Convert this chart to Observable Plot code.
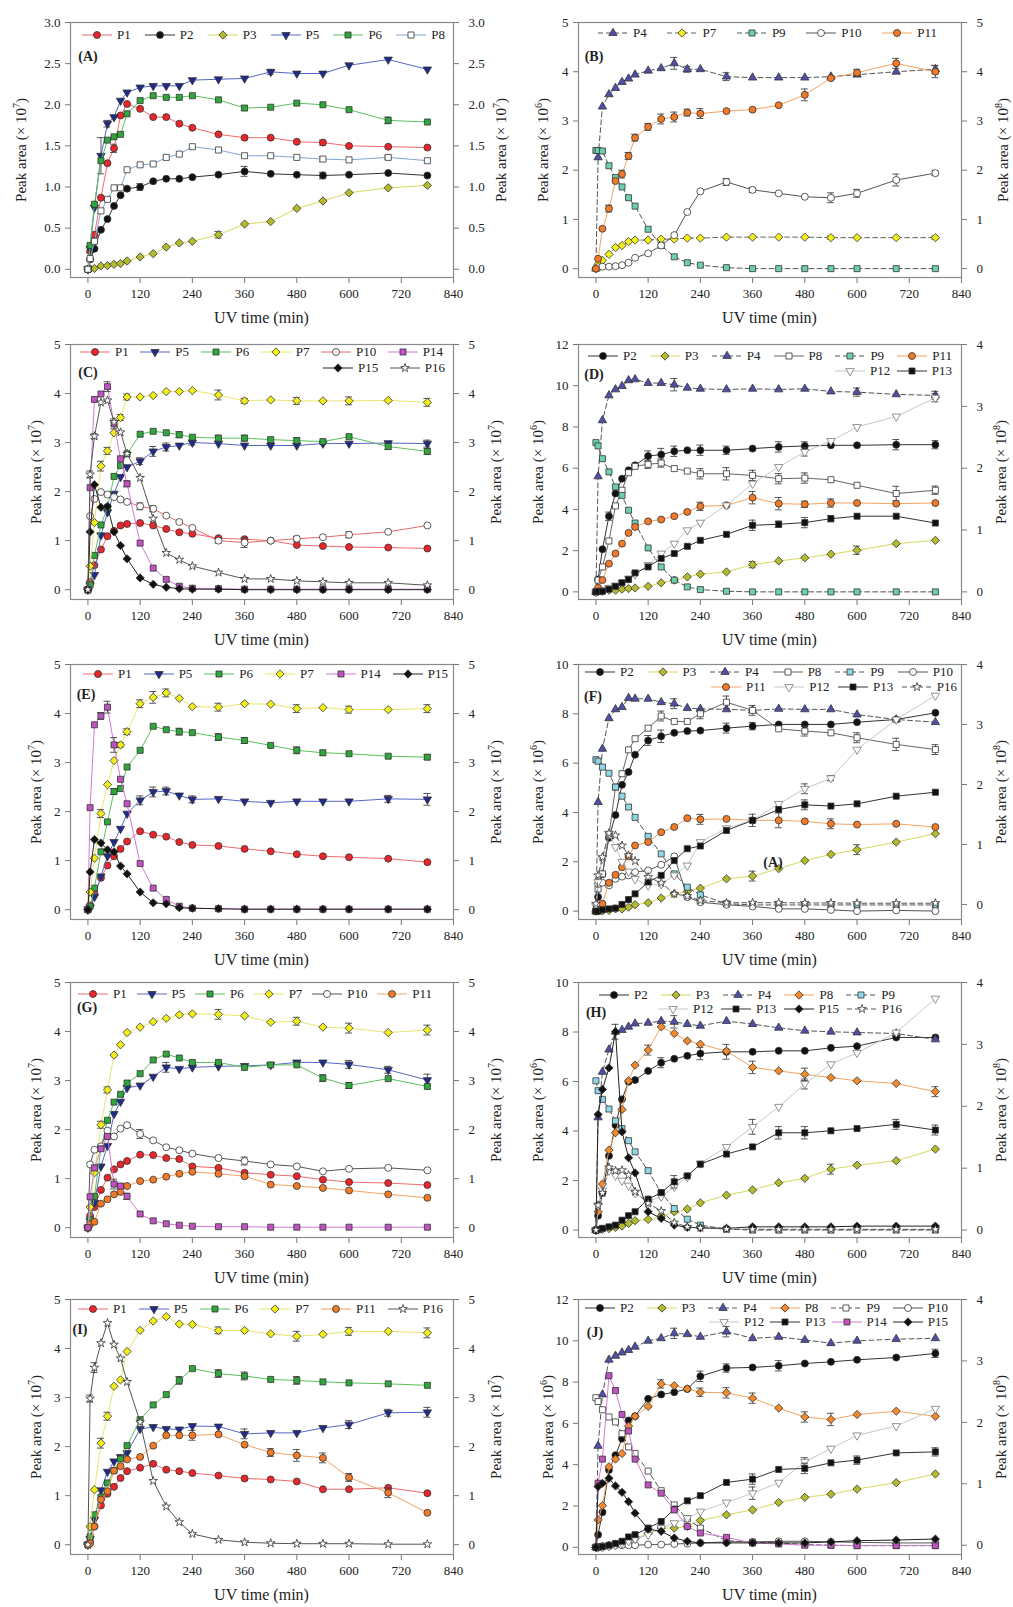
<!DOCTYPE html>
<html><head><meta charset="utf-8">
<script src="https://cdn.jsdelivr.net/npm/d3@7"></script>
<script src="https://cdn.jsdelivr.net/npm/@observablehq/plot@0.6"></script>
<style>
body{margin:0;background:#fff;}
#root{position:relative;width:1013px;height:1607px;background:#fff;font-family:"Liberation Serif","Times New Roman",serif;color:#222;overflow:hidden;}
.abs{position:absolute;white-space:nowrap;}
.ylab{font-size:15px;transform:translate(-50%,-50%) rotate(-90deg);}
.ylab sup{font-size:10px;}
.xlab{font-size:16px;transform:translate(-50%,-50%);}
.plab{font-size:14px;font-weight:bold;transform:translate(-50%,-50%);}
.lrow{display:flex;justify-content:space-between;align-items:center;height:14px;font-size:13px;}
.lent{display:flex;align-items:center;gap:5px;}
</style></head>
<body><div id="root"></div>
<script>
// UV time points (min)
const T = [0,5,15,30,45,60,75,90,120,150,180,210,240,300,360,420,480,540,600,690,780];

// Panel A (x10^7)
const A_P1 = [0,0.22,0.42,0.87,1.29,1.47,1.87,2.01,1.95,1.85,1.85,1.77,1.72,1.64,1.60,1.60,1.55,1.54,1.50,1.49,1.48];
const A_P2 = [0,0.12,0.25,0.48,0.61,0.77,0.90,0.98,1.00,1.07,1.10,1.10,1.12,1.15,1.19,1.16,1.15,1.14,1.15,1.17,1.14];
const A_P3 = [0,0.005,0.01,0.04,0.045,0.06,0.07,0.10,0.15,0.19,0.27,0.32,0.34,0.42,0.55,0.58,0.74,0.83,0.93,0.99,1.02];
const A_P5 = [0,0.25,0.75,1.38,1.77,1.85,2.05,2.15,2.21,2.23,2.23,2.23,2.30,2.31,2.32,2.40,2.38,2.38,2.48,2.55,2.43];
const A_P6 = [0,0.29,0.79,1.32,1.57,1.61,1.64,1.89,2.05,2.11,2.09,2.09,2.11,2.06,1.96,1.97,2.02,2.00,1.94,1.81,1.79];
const A_P8 = [0,0.13,0.34,0.71,0.85,0.99,0.99,1.21,1.27,1.28,1.36,1.40,1.49,1.45,1.38,1.38,1.36,1.34,1.33,1.36,1.32];
// Panel B
const B_P4 = [0,2.26,3.29,3.54,3.67,3.79,3.86,3.94,4.02,4.07,4.17,4.05,4.05,3.90,3.88,3.88,3.88,3.90,3.94,4.00,4.05];
const B_P7 = [0,0.09,0.17,0.29,0.43,0.47,0.55,0.58,0.58,0.60,0.60,0.62,0.62,0.64,0.64,0.64,0.64,0.63,0.63,0.63,0.63];
const B_P9 = [2.40,2.40,2.39,2.09,1.85,1.66,1.44,1.27,0.80,0.47,0.24,0.12,0.07,0.02,0,0,0,0,0,0,0];
const B_P10 = [0,0.03,0.04,0.04,0.05,0.07,0.12,0.22,0.31,0.47,0.68,1.15,1.57,1.76,1.60,1.53,1.46,1.44,1.53,1.80,1.94];
const B_P11 = [0,0.20,0.81,1.22,1.78,1.92,2.29,2.66,2.88,3.04,3.08,3.17,3.15,3.20,3.23,3.32,3.53,3.87,3.98,4.17,4.00];
// Panel C
const C_P1 = [0,0.16,0.50,0.82,1.09,1.20,1.31,1.34,1.36,1.31,1.24,1.17,1.14,1.05,1.03,1.00,0.91,0.89,0.87,0.86,0.84];
const C_P5 = [0,0.09,0.30,1.11,1.58,1.96,2.30,2.50,2.62,2.82,2.91,2.94,3.00,2.98,2.94,2.94,2.94,2.98,2.98,2.99,2.98];
const C_P6 = [0,0.10,0.70,1.32,1.68,2.31,2.53,2.77,3.17,3.23,3.20,3.16,3.11,3.09,3.09,3.06,3.04,3.02,3.12,2.92,2.82];
const C_P7 = [0,0.48,1.37,2.52,2.83,3.20,3.51,3.93,3.93,3.96,4.04,4.04,4.06,3.97,3.85,3.87,3.85,3.85,3.85,3.86,3.82];
const C_P10 = [0,1.50,1.85,1.99,1.94,1.89,1.84,1.79,1.70,1.65,1.51,1.38,1.26,1.00,0.96,1.00,1.04,1.07,1.12,1.18,1.31];
const C_P14 = [0,2.08,3.88,3.99,4.14,3.38,2.67,2.16,0.95,0.44,0.21,0.07,0.03,0.02,0.01,0.01,0.01,0.01,0.01,0.01,0.01];
const C_P15 = [0,1.18,2.14,1.68,1.70,1.18,0.90,0.63,0.24,0.11,0.05,0.02,0.01,0.01,0,0,0,0,0,0,0];
const C_P16 = [0,2.35,3.13,3.82,3.86,3.42,3.21,2.77,2.28,1.45,0.75,0.61,0.48,0.35,0.22,0.22,0.18,0.16,0.14,0.14,0.09];
// Panel D (x10^6)
const D_P2 = [0,0.60,2.07,3.67,4.77,5.49,5.90,6.14,6.59,6.66,6.82,6.87,6.87,6.87,6.95,7.03,7.08,7.11,7.11,7.14,7.14];
const D_P3 = [0,0.02,0.03,0.08,0.08,0.13,0.16,0.19,0.27,0.44,0.57,0.73,0.86,0.97,1.32,1.50,1.65,1.83,2.02,2.34,2.50];
const D_P4 = [0,5.60,8.32,9.53,9.82,9.98,10.26,10.31,10.13,10.13,10.05,9.90,9.85,9.82,9.85,9.82,9.85,9.72,9.69,9.58,9.53];
const D_P8 = [0,0.57,1.21,2.47,4.17,4.93,5.78,6.09,6.19,6.25,5.98,5.86,5.73,5.73,5.65,5.49,5.52,5.44,5.17,4.77,4.93];
const D_P9 = [7.24,7.08,6.46,5.82,5.09,4.68,3.96,3.34,2.13,1.21,0.57,0.24,0.11,0.03,0,0,0,0,0,0,0];
const D_P11 = [0,0.20,0.57,1.37,1.86,2.34,2.86,3.15,3.42,3.51,3.67,3.88,4.15,4.20,4.57,4.28,4.25,4.31,4.31,4.28,4.31];
const D_P12 = [0,0.05,0.10,0.20,0.30,0.45,0.65,0.85,1.30,1.86,2.34,2.99,3.36,4.20,5.25,6.06,6.79,7.32,8.00,8.51,9.42];
const D_P13 = [0,0.02,0.03,0.13,0.27,0.44,0.60,0.92,1.21,1.62,1.86,2.21,2.50,2.79,3.23,3.28,3.36,3.55,3.67,3.67,3.34];
// Panel E
const E_P1 = [0,0.09,0.33,0.65,0.90,1.09,1.24,1.39,1.60,1.53,1.49,1.38,1.32,1.30,1.24,1.19,1.13,1.09,1.07,1.04,0.97];
const E_P5 = [0,0.05,0.26,0.68,1.09,1.38,1.65,1.96,2.23,2.40,2.42,2.33,2.25,2.26,2.21,2.18,2.21,2.21,2.21,2.26,2.25];
const E_P6 = [0,0.07,0.44,1.18,1.79,2.41,2.47,2.91,3.25,3.74,3.67,3.63,3.61,3.52,3.45,3.35,3.25,3.20,3.18,3.13,3.11];
const E_P7 = [0,0.36,1.05,1.96,2.55,3.04,3.36,3.63,4.20,4.33,4.42,4.31,4.14,4.13,4.20,4.19,4.10,4.12,4.08,4.08,4.10];
const E_P14 = [0,2.08,3.77,3.95,4.13,3.36,2.66,2.16,0.94,0.44,0.21,0.07,0.03,0.02,0.01,0.01,0.01,0.01,0.01,0.01,0.01];
const E_P15 = [0,0.77,1.43,1.36,1.22,1.18,0.89,0.73,0.36,0.14,0.12,0.04,0.03,0.02,0.01,0.01,0.01,0.01,0.01,0.01,0.01];
// Panel F
const F_P2 = [0,0.57,1.50,2.97,3.90,5.12,5.64,6.34,6.92,7.09,7.23,7.30,7.32,7.42,7.50,7.57,7.57,7.57,7.66,7.77,8.04];
const F_P3 = [0,0,0.01,0.03,0.09,0.09,0.16,0.26,0.34,0.53,0.70,0.80,0.93,1.31,1.42,1.72,2.05,2.30,2.49,2.80,3.14];
const F_P4 = [0,4.42,6.58,7.82,8.18,8.27,8.64,8.61,8.61,8.47,8.41,8.23,8.20,8.18,8.14,8.20,8.18,8.18,7.97,7.77,7.66];
const F_P8 = [0,0.90,1.51,3.07,5.03,5.57,6.54,6.99,7.42,7.91,7.69,7.69,8.00,8.47,8.14,7.39,7.30,7.23,7.03,6.76,6.55];
const F_P9 = [6.14,6.08,5.84,5.59,5.03,4.66,4.22,3.80,3.03,2.32,1.51,0.97,0.66,0.30,0.25,0.25,0.25,0.25,0.25,0.25,0.25];
const F_P10 = [0,1.10,1.15,1.04,1.31,1.40,1.45,1.58,1.65,1.88,2.22,0.57,0.36,0.26,0.19,0.09,0.09,0.05,0.0,0.03,0.0];
const F_P11 = [0,0.10,0.30,1.15,1.47,1.78,2.22,2.66,2.80,3.20,3.41,3.77,3.72,3.74,3.68,3.68,3.64,3.54,3.51,3.54,3.41];
const F_P12 = [0.2,1.18,2.12,3.14,2.60,2.00,1.60,1.30,1.04,1.10,1.45,1.85,2.80,3.36,3.68,4.35,4.96,5.39,6.55,7.77,8.74];
const F_P13 = [0,0,0.05,0.09,0.12,0.27,0.47,0.70,1.18,1.45,2.05,2.53,2.64,3.27,3.68,4.12,4.31,4.26,4.35,4.66,4.82];
const F_P16 = [0.3,1.45,2.19,3.16,3.07,2.66,2.26,2.03,1.38,1.15,0.70,0.61,0.43,0.34,0.34,0.34,0.33,0.33,0.32,0.32,0.32];
// Panel G
const G_P1 = [0,0.24,0.42,0.77,1.02,1.19,1.29,1.36,1.49,1.48,1.42,1.40,1.25,1.22,1.12,1.08,1.05,0.98,0.93,0.91,0.87];
const G_P5 = [0,0.14,0.51,1.25,1.67,2.32,2.57,2.85,2.90,3.08,3.27,3.24,3.27,3.29,3.30,3.32,3.37,3.37,3.33,3.22,3.01];
const G_P6 = [0,0.16,0.64,1.63,2.19,2.56,2.72,2.95,3.14,3.42,3.54,3.46,3.37,3.37,3.27,3.32,3.32,3.05,2.90,3.04,2.88];
const G_P7 = [0,0.42,1.12,2.10,2.81,3.52,3.73,3.98,4.09,4.20,4.27,4.34,4.36,4.35,4.32,4.19,4.21,4.09,4.07,3.98,4.03];
const G_P10 = [0,1.29,1.59,1.66,1.98,1.86,2.02,2.09,1.91,1.78,1.64,1.58,1.51,1.42,1.36,1.29,1.25,1.15,1.20,1.22,1.17];
const G_P11 = [0,0.07,0.12,0.49,0.58,0.68,0.73,0.85,0.95,0.98,1.04,1.10,1.14,1.10,1.05,0.88,0.85,0.81,0.76,0.68,0.61];
const G_P14 = [0,0.63,1.22,1.61,1.86,0.89,0.85,0.64,0.28,0.14,0.08,0.05,0.03,0.02,0.02,0.01,0.01,0.01,0.01,0.01,0.01];
// Panel H
const H_P2 = [0,0.58,1.50,3.00,4.24,5.28,5.99,6.06,6.43,6.76,6.92,7.04,7.13,7.20,7.20,7.24,7.24,7.36,7.43,7.78,7.78];
const H_P3 = [0,0,0.03,0.06,0.11,0.16,0.27,0.38,0.43,0.57,0.74,0.85,1.10,1.41,1.62,1.91,2.09,2.46,2.62,2.80,3.27];
const H_P4 = [0,4.55,6.39,7.29,8.01,8.08,8.21,8.34,8.37,8.44,8.41,8.32,8.25,8.44,8.32,8.17,8.05,8.01,7.98,7.94,7.70];
const H_P8 = [0,0.74,1.86,3.23,3.93,4.87,6.03,6.66,7.27,8.21,7.94,7.64,7.51,7.23,6.57,6.43,6.29,6.16,6.03,5.92,5.59];
const H_P9 = [6.03,5.63,5.28,4.89,4.41,4.10,3.61,3.16,2.40,1.51,0.87,0.44,0.20,0.04,0,0,0,0,0,0,0];
const H_P12 = [0,1.00,1.60,2.40,2.20,2.00,1.80,1.50,1.15,1.35,1.75,2.15,2.69,3.36,4.17,4.98,5.90,6.70,7.16,7.98,9.35];
const H_P13 = [0,0.02,0.07,0.13,0.20,0.40,0.58,0.74,1.25,1.51,1.95,2.19,2.66,3.07,3.36,3.93,3.93,4.01,4.10,4.27,4.04];
const H_P15 = [0,4.67,5.68,6.55,8.01,3.97,2.92,2.31,0.74,0.47,0.20,0.11,0.09,0.07,0.13,0.13,0.13,0.13,0.16,0.16,0.16];
const H_P16 = [0,1.00,1.50,2.53,2.40,2.42,2.22,1.55,1.08,0.77,0.30,0.13,0.09,0.04,0.03,0.03,0.03,0.03,0.03,0.03,0.03];
// Panel I
const I_P1 = [0,0.05,0.37,0.80,1.04,1.18,1.36,1.50,1.57,1.65,1.53,1.50,1.46,1.41,1.35,1.33,1.29,1.13,1.13,1.16,1.05];
const I_P5 = [0,0.12,0.51,1.11,1.49,1.70,1.79,1.87,2.36,2.40,2.36,2.35,2.42,2.41,2.26,2.28,2.28,2.38,2.45,2.69,2.70];
const I_P6 = [0,0.16,0.61,0.97,1.26,1.51,1.75,2.02,2.55,2.85,3.06,3.35,3.59,3.49,3.44,3.37,3.35,3.32,3.30,3.28,3.25];
const I_P7 = [0,0.37,1.12,2.07,2.62,3.23,3.36,3.94,4.37,4.56,4.65,4.50,4.49,4.37,4.37,4.30,4.25,4.29,4.35,4.35,4.32];
const I_P11 = [0,0.03,0.37,0.92,1.09,1.51,1.60,1.74,1.79,2.02,2.23,2.23,2.23,2.25,2.04,1.88,1.82,1.77,1.37,1.06,0.65];
const I_P16 = [0,2.98,3.61,4.11,4.52,4.08,3.80,3.32,2.50,1.30,0.78,0.46,0.22,0.10,0.05,0.03,0.02,0.02,0.02,0.01,0.01];
// Panel J
const J_P2 = [0,0.61,1.70,3.74,4.46,5.26,6.14,6.35,7.19,7.40,7.51,7.67,8.28,8.68,8.71,8.79,8.90,8.98,9.08,9.19,9.39];
const J_P3 = [0,0,0.05,0.10,0.16,0.24,0.32,0.42,0.66,0.93,0.93,1.01,1.30,1.57,1.81,2.17,2.42,2.57,2.82,3.13,3.55];
const J_P4 = [0,4.91,7.40,9.08,9.27,9.43,9.55,9.71,10.00,10.12,10.36,10.32,10.19,10.44,10.12,10.19,10.04,9.88,10.00,10.08,10.12];
const J_P8 = [0,1.33,2.02,3.90,4.27,4.54,5.87,6.34,6.82,7.91,7.83,7.67,7.51,7.48,7.22,6.74,6.31,6.19,6.43,6.59,6.34];
const J_P9 = [7.24,7.06,6.66,6.31,6.07,5.50,4.86,4.54,3.69,2.74,2.05,1.38,0.93,0.32,0.24,0.21,0.13,0.10,0.08,0.08,0.08];
const J_P10 = [0,0.02,0.05,0.05,0.10,0.10,0.10,0.10,0.13,0.13,0.16,0.18,0.21,0.26,0.26,0.29,0.29,0.26,0.24,0.21,0.21];
const J_P12 = [0,0,0,0.05,0.10,0.20,0.30,0.40,0.60,0.93,1.17,1.41,1.73,2.17,2.62,3.13,4.14,4.78,5.42,5.87,6.71];
const J_P13 = [0,0,0.03,0.10,0.18,0.29,0.50,0.61,0.93,1.25,1.85,2.25,2.50,3.14,3.30,3.77,3.82,4.09,4.22,4.57,4.62];
const J_P14 = [0,3.10,4.27,8.31,7.59,6.43,5.63,4.27,3.02,2.62,1.81,1.01,0.69,0.48,0.21,0.16,0.10,0.10,0.08,0.08,0.08];
const J_P15 = [0,2.94,3.10,3.34,2.97,2.66,2.21,1.65,0.88,0.77,0.45,0.29,0.21,0.21,0.21,0.21,0.21,0.26,0.32,0.35,0.40];

// Error bars (series, UV time, ± error)
const A_err = [["P5",30,0.22],["P5",45,0.04],["P5",420,0.03],["P2",120,0.04],["P2",360,0.06],["P2",540,0.04],["P6",360,0.03],["P6",690,0.04],["P3",300,0.04],["P1",60,0.05],["P1",540,0.03],["P8",540,0.03],["P8",690,0.02]];
const B_err = [["P4",180,0.12],["P4",210,0.06],["P4",300,0.08],["P4",780,0.08],["P11",30,0.07],["P11",60,0.08],["P11",75,0.07],["P11",90,0.07],["P11",120,0.07],["P11",150,0.1],["P11",180,0.1],["P11",210,0.07],["P11",240,0.1],["P11",480,0.12],["P11",600,0.07],["P11",690,0.1],["P11",780,0.12],["P10",300,0.07],["P10",360,0.05],["P10",540,0.1],["P10",600,0.08],["P10",690,0.12],["P10",780,0.05],["P7",540,0.03],["P7",780,0.03]];
const C_err = [["P7",30,0.1],["P7",45,0.07],["P7",75,0.06],["P7",90,0.06],["P7",300,0.1],["P7",360,0.05],["P7",480,0.07],["P7",600,0.08],["P7",780,0.08],["P6",210,0.06],["P6",300,0.06],["P6",360,0.06],["P6",480,0.06],["P6",690,0.06],["P6",780,0.06],["P5",120,0.07],["P5",150,0.1],["P5",180,0.08],["P5",240,0.05],["P5",780,0.07],["P10",120,0.07],["P10",150,0.06],["P10",300,0.05],["P10",360,0.1],["P10",480,0.05],["P10",600,0.06],["P14",45,0.1],["P14",60,0.1],["P14",90,0.06],["P16",5,0.07],["P16",15,0.05]];
const D_err = [["P2",30,0.2],["P2",120,0.25],["P2",150,0.3],["P2",180,0.25],["P2",240,0.25],["P2",300,0.2],["P2",420,0.25],["P2",480,0.2],["P2",690,0.25],["P2",780,0.2],["P8",120,0.2],["P8",150,0.2],["P8",240,0.25],["P8",300,0.3],["P8",360,0.25],["P8",420,0.25],["P8",480,0.25],["P8",690,0.35],["P8",780,0.2],["P11",240,0.2],["P11",360,0.3],["P11",420,0.3],["P11",480,0.15],["P11",540,0.2],["P13",360,0.25],["P13",420,0.15],["P13",480,0.25],["P13",540,0.15],["P4",180,0.3],["P4",600,0.2],["P4",780,0.2],["P12",480,0.2],["P12",780,0.2],["P3",360,0.15],["P3",600,0.2]];
const E_err = [["P7",30,0.08],["P7",75,0.05],["P7",90,0.06],["P7",120,0.08],["P7",150,0.12],["P7",180,0.08],["P7",300,0.08],["P7",480,0.08],["P7",600,0.07],["P7",780,0.08],["P6",60,0.06],["P6",210,0.07],["P6",300,0.07],["P6",360,0.06],["P6",480,0.07],["P6",540,0.05],["P6",780,0.05],["P5",120,0.09],["P5",150,0.1],["P5",180,0.08],["P5",240,0.07],["P5",690,0.07],["P5",780,0.12],["P14",30,0.07],["P14",45,0.12],["P14",60,0.15]];
const F_err = [["P8",150,0.2],["P8",240,0.2],["P8",300,0.25],["P8",360,0.2],["P8",480,0.2],["P8",600,0.2],["P8",690,0.25],["P8",780,0.2],["P2",120,0.2],["P2",150,0.25],["P2",300,0.2],["P2",360,0.15],["P11",240,0.2],["P11",420,0.3],["P11",540,0.2],["P13",360,0.25],["P13",480,0.2],["P3",360,0.2],["P3",600,0.2],["P4",180,0.2],["P12",480,0.2],["P12",540,0.1]];
const G_err = [["P7",30,0.07],["P7",45,0.06],["P7",300,0.1],["P7",480,0.08],["P7",600,0.1],["P7",780,0.1],["P5",180,0.1],["P5",600,0.08],["P5",690,0.07],["P5",780,0.12],["P6",540,0.07],["P6",600,0.06],["P10",120,0.09],["P10",360,0.08],["P14",60,0.1],["P14",90,0.06]];
const H_err = [["P2",150,0.2],["P2",240,0.25],["P2",300,0.3],["P8",120,0.2],["P8",360,0.25],["P8",480,0.25],["P8",780,0.2],["P4",45,0.3],["P4",180,0.25],["P13",180,0.25],["P13",420,0.25],["P13",480,0.25],["P13",690,0.2],["P13",780,0.2],["P12",360,0.3],["P12",480,0.2],["P3",540,0.2]];
const I_err = [["P7",30,0.1],["P7",45,0.08],["P7",300,0.07],["P7",480,0.1],["P7",600,0.08],["P7",780,0.1],["P6",210,0.08],["P6",300,0.08],["P6",360,0.08],["P6",480,0.08],["P5",360,0.1],["P5",600,0.08],["P5",690,0.07],["P5",780,0.1],["P11",240,0.1],["P11",420,0.08],["P11",480,0.12],["P11",540,0.1],["P11",600,0.08],["P11",690,0.1],["P16",5,0.07],["P16",15,0.1]];
const J_err = [["P2",240,0.25],["P2",300,0.2],["P2",420,0.25],["P2",780,0.2],["P8",150,0.2],["P8",240,0.2],["P8",300,0.25],["P8",360,0.25],["P8",480,0.25],["P8",540,0.3],["P4",180,0.25],["P4",300,0.25],["P13",360,0.25],["P13",480,0.25],["P13",600,0.2],["P13",780,0.2],["P12",360,0.3],["P12",480,0.2]];

// Axis tick values
const xTicks = [0,120,240,360,480,600,720,840];
const ticks3 = [0,0.5,1,1.5,2,2.5,3];
const ticks5 = [0,1,2,3,4,5];
const ticks10 = [0,2,4,6,8,10];
const ticks12 = [0,2,4,6,8,10,12];
const rightTicks4 = [0,1,2,3,4];

// ---------- styling ----------
const triDown = {draw(ctx, size){const y=-Math.sqrt(size/(Math.sqrt(3)*3));ctx.moveTo(0,-y*2);ctx.lineTo(-Math.sqrt(3)*y,y);ctx.lineTo(Math.sqrt(3)*y,y);ctx.closePath();}};
const diamondSq = {draw(ctx, size){const r=Math.sqrt(size/2);ctx.moveTo(0,-r);ctx.lineTo(r,0);ctx.lineTo(0,r);ctx.lineTo(-r,0);ctx.closePath();}};
const S = {
  circle: d3.symbolCircle, square: d3.symbolSquare, diamond: diamondSq,
  tri: d3.symbolTriangle, triDown: triDown, star: d3.symbolStar
};
const base = {
  P1:{sym:"circle",fill:"#e8262b",line:"#f26b6b"},
  P2:{sym:"circle",fill:"#111",line:"#333"},
  P3:{sym:"diamond",fill:"#b3bb2c",line:"#d6da5e"},
  P4:{sym:"tri",fill:"#4f4fa8",line:"#555",dash:true},
  P5:{sym:"triDown",fill:"#1f2a8a",line:"#5666c8"},
  P6:{sym:"square",fill:"#2ea83c",line:"#5cbf5c"},
  P7:{sym:"diamond",fill:"#f2ee1a",line:"#e8e670"},
  P8:{sym:"square",fill:"#fff",line:"#666"},
  P9:{sym:"square",fill:"#6ccfae",line:"#555",dash:true},
  P10:{sym:"circle",fill:"#fff",line:"#555"},
  P11:{sym:"circle",fill:"#f07a28",line:"#f5a262"},
  P12:{sym:"triDown",fill:"#fff",line:"#c8c8c8",mstroke:"#777"},
  P13:{sym:"square",fill:"#111",line:"#333"},
  P14:{sym:"square",fill:"#c252c2",line:"#d27ad2"},
  P15:{sym:"diamond",fill:"#111",line:"#222"},
  P16:{sym:"star",fill:"#fff",line:"#555"}
};
function styleFor(panel, name){ return Object.assign({}, base[name], (panel.over||{})[name]||{}); }
const symR = {circle:3.5,square:3.4,diamond:3.3,tri:3.1,triDown:3.1,star:2.7};

const frameTops = [22,344,664,982,1299];
const panels = [
 {id:"A",col:0,row:0,y:[-0.1,3],lt:ticks3,fmt:d=>d.toFixed(1),rt:ticks3,rpos:ticks3,rfmt:d=>d.toFixed(1),
  ex:["7","7"],ylx:[20,500],lab:[88,57],err:A_err,
  series:[["P1",A_P1],["P2",A_P2],["P3",A_P3],["P5",A_P5],["P6",A_P6],["P8",A_P8]],
  over:{P8:{line:"#7fa6d6"}},
  legend:[[82,445,35,["P1","P2","P3","P5","P6","P8"]]]},
 {id:"B",col:1,row:0,y:[-0.18,5],lt:ticks5,rt:ticks5,rpos:ticks5,
  ex:["6","8"],ylx:[542,1002],lab:[594,57],err:B_err,
  series:[["P4",B_P4],["P7",B_P7],["P9",B_P9],["P10",B_P10],["P11",B_P11]],
  over:{P7:{dash:true,line:"#666"}},
  legend:[[598,937,33,["P4","P7","P9","P10","P11"]]]},
 {id:"C",col:0,row:1,y:[-0.2,5],lt:ticks5,rt:ticks5,rpos:ticks5,
  ex:["7","7"],ylx:[35,495],lab:[88,373],err:C_err,
  series:[["P1",C_P1],["P5",C_P5],["P6",C_P6],["P7",C_P7],["P10",C_P10],["P14",C_P14],["P15",C_P15],["P16",C_P16]],
  over:{P10:{line:"#e86a6a"}},
  legend:[[80,443,352,["P1","P5","P6","P7","P10","P14"]],[323,445,368,["P15","P16"]]]},
 {id:"D",col:1,row:1,y:[-0.37,12],lt:ticks12,rt:rightTicks4,rpos:rightTicks4.map(r=>r*3),
  ex:["6","8"],ylx:[537,1000],lab:[594,375],err:D_err,
  series:[["P2",D_P2],["P3",D_P3],["P4",D_P4],["P8",D_P8],["P9",D_P9],["P11",D_P11],["P12",D_P12],["P13",D_P13]],
  legend:[[588,952,356,["P2","P3","P4","P8","P9","P11"]],[835,952,371,["P12","P13"]]]},
 {id:"E",col:0,row:2,y:[-0.2,5],lt:ticks5,rt:ticks5,rpos:ticks5,
  ex:["7","7"],ylx:[35,495],lab:[86,695],err:E_err,
  series:[["P1",E_P1],["P5",E_P5],["P6",E_P6],["P7",E_P7],["P14",E_P14],["P15",E_P15]],
  legend:[[83,448,674,["P1","P5","P6","P7","P14","P15"]]]},
 {id:"F",col:1,row:2,y:[-0.34,10],lt:ticks10,rt:rightTicks4,rpos:rightTicks4.map(r=>0.27+2.432*r),
  ex:["6","8"],ylx:[537,1000],lab:[593,697],extra:[773,863,"(A)"],err:F_err,
  series:[["P2",F_P2],["P3",F_P3],["P4",F_P4],["P8",F_P8],["P9",F_P9],["P10",F_P10],["P11",F_P11],["P12",F_P12],["P13",F_P13],["P16",F_P16]],
  over:{P9:{fill:"#8fd6e6"},P16:{dash:true}},
  legend:[[585,953,672,["P2","P3","P4","P8","P9","P10"]],[711,957,687,["P11","P12","P13","P16"]]]},
 {id:"G",col:0,row:3,y:[-0.2,5],lt:ticks5,rt:ticks5,rpos:ticks5,
  ex:["7","7"],ylx:[35,495],lab:[87,1008],err:G_err,
  series:[["P1",G_P1],["P5",G_P5],["P6",G_P6],["P7",G_P7],["P10",G_P10],["P11",G_P11],["P14",G_P14]],
  legend:[[78,432,994,["P1","P5","P6","P7","P10","P11"]]]},
 {id:"H",col:1,row:3,y:[-0.3,10],lt:ticks10,rt:rightTicks4,rpos:rightTicks4.map(r=>2.5*r),
  ex:["6","8"],ylx:[537,1000],lab:[596,1013],err:H_err,
  series:[["P2",H_P2],["P3",H_P3],["P4",H_P4],["P8",H_P8],["P9",H_P9],["P12",H_P12],["P13",H_P13],["P15",H_P15],["P16",H_P16]],
  over:{P8:{sym:"diamond",fill:"#f08a2c",line:"#f4a460"},P9:{fill:"#8fd6e6"},P16:{dash:true}},
  legend:[[599,895,995,["P2","P3","P4","P8","P9"]],[658,902,1009,["P12","P13","P15","P16"]]]},
 {id:"I",col:0,row:4,y:[-0.2,5],lt:ticks5,rt:ticks5,rpos:ticks5,
  ex:["7","7"],ylx:[35,495],lab:[80,1330],err:I_err,
  series:[["P1",I_P1],["P5",I_P5],["P6",I_P6],["P7",I_P7],["P11",I_P11],["P16",I_P16]],
  legend:[[78,443,1309,["P1","P5","P6","P7","P11","P16"]]]},
 {id:"J",col:1,row:4,y:[-0.35,12],lt:ticks12,rt:rightTicks4,rpos:rightTicks4.map(r=>0.1+2.975*r),
  ex:["6","8"],ylx:[547,1000],lab:[595,1333],err:J_err,
  series:[["P2",J_P2],["P3",J_P3],["P4",J_P4],["P8",J_P8],["P9",J_P9],["P10",J_P10],["P12",J_P12],["P13",J_P13],["P14",J_P14],["P15",J_P15]],
  over:{P8:{sym:"diamond",fill:"#f08a2c",line:"#f4a460"},P9:{fill:"#fff"}},
  legend:[[585,948,1308,["P2","P3","P4","P8","P9","P10"]],[709,948,1322,["P12","P13","P14","P15"]]]}
];

const root = document.getElementById("root");
function addDiv(cls, x, y, html){const d=document.createElement("div");d.className="abs "+cls;d.style.left=x+"px";d.style.top=y+"px";d.innerHTML=html;root.appendChild(d);return d;}

function legendSymbol(st){
  const svg=d3.create("svg").attr("width",30).attr("height",12);
  svg.append("line").attr("x1",0).attr("x2",30).attr("y1",6).attr("y2",6)
    .attr("stroke",st.line).attr("stroke-width",1).attr("stroke-dasharray",st.dash?"5,3":null);
  const r=symR[st.sym];
  svg.append("path").attr("transform","translate(15,6)")
    .attr("d",d3.symbol(S[st.sym],Math.PI*r*r)())
    .attr("fill",st.fill).attr("stroke",st.mstroke||"#333").attr("stroke-width",0.8);
  return svg.node();
}

panels.forEach(p=>{
  const W = p.col===0?506:507;
  const left = p.col===0?0:506;
  const top = frameTops[p.row]-22;
  const H = 320, mT=22, mB=43;
  const mL = p.col===0?70:72, mR = p.col===0?53:52;
  const marks = [];
  const valsOf = Object.fromEntries(p.series);
  const errData = p.err.map(([name,t,e])=>({t, v: valsOf[name][T.indexOf(t)], e}));
  p.series.forEach(([name,vals])=>{
    const st = styleFor(p,name);
    const data = T.map((t,i)=>({t, v: vals[i]}));
    marks.push(Plot.line(data,{x:"t",y:"v",stroke:st.line,strokeWidth:1,strokeDasharray:st.dash?"5,3":null}));
    const ed = errData.filter((d,i)=>p.err[i][0]===name);
    marks.push(Plot.ruleX(ed,{x:"t",y1:d=>d.v-d.e,y2:d=>d.v+d.e,stroke:"#444",strokeWidth:0.9}));
    marks.push(Plot.ruleY(ed,{y:d=>d.v+d.e,x1:d=>d.t-8,x2:d=>d.t+8,stroke:"#444",strokeWidth:0.9}));
    marks.push(Plot.ruleY(ed,{y:d=>d.v-d.e,x1:d=>d.t-8,x2:d=>d.t+8,stroke:"#444",strokeWidth:0.9}));
    marks.push(Plot.dot(data,{x:"t",y:"v",symbol:S[st.sym],r:symR[st.sym],fill:st.fill,stroke:st.mstroke||"#333",strokeWidth:0.8}));
  });
  const rmap = new Map(p.rpos.map((pos,i)=>[pos,p.rt[i]]));
  const svg = Plot.plot({
    width:W,height:H,marginTop:mT,marginBottom:mB,marginLeft:mL,marginRight:mR,
    x:{domain:[-40,840]}, y:{domain:p.y},
    style:{fontFamily:'"Liberation Serif","Times New Roman",serif',fontSize:"13px",color:"#222",background:"transparent",overflow:"visible"},
    marks:[
      Plot.axisX({ticks:xTicks,tickSize:6,tickPadding:5,label:null,stroke:"#777",fontSize:13}),
      Plot.axisY({anchor:"left",ticks:p.lt,tickFormat:p.fmt||(d=>String(d)),tickSize:5,tickPadding:5,label:null,stroke:"#777",fontSize:13}),
      Plot.axisY({anchor:"right",ticks:p.rpos,tickFormat:d=>{const v=rmap.get(d);return p.rfmt?p.rfmt(v):String(v);},tickSize:5,tickPadding:10,label:null,stroke:"#777",fontSize:13}),
      ...marks,
      Plot.frame({stroke:"#8a8a8a",strokeWidth:1.2})
    ]
  });
  svg.style.position="absolute";svg.style.left=left+"px";svg.style.top=top+"px";
  root.appendChild(svg);

  const fTop=frameTops[p.row], fBot=fTop+255, fMid=(fTop+fBot)/2;
  const fx0=left+mL, fx1=left+W-mR;
  addDiv("ylab",p.ylx[0],fMid,`Peak area (× 10<sup>${p.ex[0]}</sup>)`);
  addDiv("ylab",p.ylx[1],fMid,`Peak area (× 10<sup>${p.ex[1]}</sup>)`);
  addDiv("xlab",(fx0+fx1)/2,fBot+41,"UV time (min)");
  addDiv("plab",p.lab[0],p.lab[1],`(${p.id})`);
  if(p.extra) addDiv("plab",p.extra[0],p.extra[1],p.extra[2]);
  p.legend.forEach(([x0,x1,y,names])=>{
    const row=addDiv("lrow",x0,y-7,"");
    row.style.width=(x1-x0)+"px";
    names.forEach(n=>{
      const e=document.createElement("div");e.className="lent";
      e.appendChild(legendSymbol(styleFor(p,n)));
      const s=document.createElement("span");s.textContent=n;e.appendChild(s);
      row.appendChild(e);
    });
  });
});
</script></body></html>
